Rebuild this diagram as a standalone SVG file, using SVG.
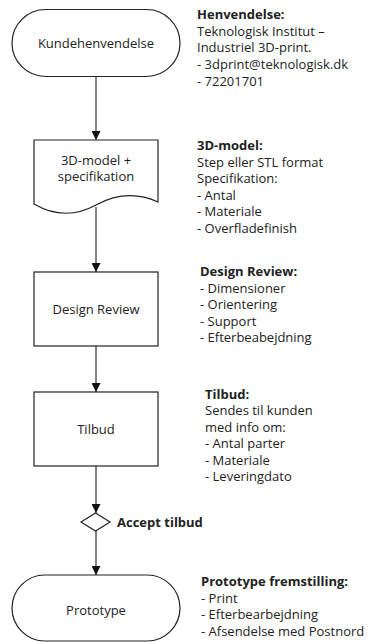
<svg xmlns="http://www.w3.org/2000/svg" width="378" height="642" viewBox="0 0 378 642">
<style>
.node{fill:#fff;stroke:#222;stroke-width:1.2}
.conn{fill:none;stroke:#333;stroke-width:1.2}
text{font-family:"Open Sans","Noto Sans","Liberation Sans",sans-serif;font-size:13px;fill:#222}
.c{text-anchor:middle}
.b{font-weight:bold}
</style>
<defs>
<marker id="arr" markerWidth="9" markerHeight="9" refX="9" refY="4.5" orient="auto" markerUnits="userSpaceOnUse">
<path d="M0,0 L9,4.5 L0,9 Z" fill="#111"/>
</marker>
</defs>
<g id="connectors">
<line class="conn" x1="96" y1="77" x2="96" y2="140" marker-end="url(#arr)"/>
<line class="conn" x1="96" y1="207" x2="96" y2="272" marker-end="url(#arr)"/>
<line class="conn" x1="96" y1="346" x2="96" y2="392" marker-end="url(#arr)"/>
<line class="conn" x1="96" y1="466" x2="96" y2="513" marker-end="url(#arr)"/>
<line class="conn" x1="96" y1="531" x2="96" y2="575" marker-end="url(#arr)"/>
</g>
<g id="kundehenvendelse">
<rect class="node" x="12" y="9.5" width="168" height="67" rx="33.5" ry="33.5"/>
<text class="c" x="96" y="47.5">Kundehenvendelse</text>
</g>
<g id="note-henvendelse">
<text x="197" y="19" class="b">Henvendelse:</text>
<text x="197" y="35.7">Teknologisk Institut –</text>
<text x="197" y="52.3">Industriel 3D-print.</text>
<text x="197" y="69">- 3dprint@teknologisk.dk</text>
<text x="197" y="85.7">- 72201701</text>
</g>
<g id="model">
<path class="node" d="M34,140 H158 V202 Q127,188 96,205 T34,204 Z"/>
<text class="c" x="96" y="165">3D-model +</text>
<text class="c" x="96" y="181">specifikation</text>
</g>
<g id="note-model">
<text x="197" y="150" class="b">3D-model:</text>
<text x="197" y="166.5">Step eller STL format</text>
<text x="197" y="183">Specifikation:</text>
<text x="197" y="199.5">- Antal</text>
<text x="197" y="216">- Materiale</text>
<text x="197" y="232.5">- Overfladefinish</text>
</g>
<g id="design-review">
<rect class="node" x="34" y="272" width="124" height="74"/>
<text class="c" x="96" y="313.5">Design Review</text>
</g>
<g id="note-design-review">
<text x="200" y="276" class="b">Design Review:</text>
<text x="200" y="292.5">- Dimensioner</text>
<text x="200" y="309">- Orientering</text>
<text x="200" y="325.5">- Support</text>
<text x="200" y="342">- Efterbeabejdning</text>
</g>
<g id="tilbud">
<rect class="node" x="34" y="392" width="124" height="74"/>
<text class="c" x="96" y="434">Tilbud</text>
</g>
<g id="note-tilbud">
<text x="205" y="398.5" class="b">Tilbud:</text>
<text x="205" y="415">Sendes til kunden</text>
<text x="205" y="431.5">med info om:</text>
<text x="205" y="448">- Antal parter</text>
<text x="205" y="464.5">- Materiale</text>
<text x="205" y="481">- Leveringdato</text>
</g>
<g id="accept">
<path class="node" d="M95.5,513 L110,522 L95.5,531 L81,522 Z"/>
<text x="117" y="527" class="b">Accept tilbud</text>
</g>
<g id="prototype">
<rect class="node" x="12" y="575" width="168" height="66" rx="33" ry="33"/>
<text class="c" x="96" y="615">Prototype</text>
</g>
<g id="note-prototype">
<text x="201" y="586" class="b">Prototype fremstilling:</text>
<text x="201" y="602.5">- Print</text>
<text x="201" y="619">- Efterbearbejdning</text>
<text x="201" y="635.5">- Afsendelse med Postnord</text>
</g>
</svg>
